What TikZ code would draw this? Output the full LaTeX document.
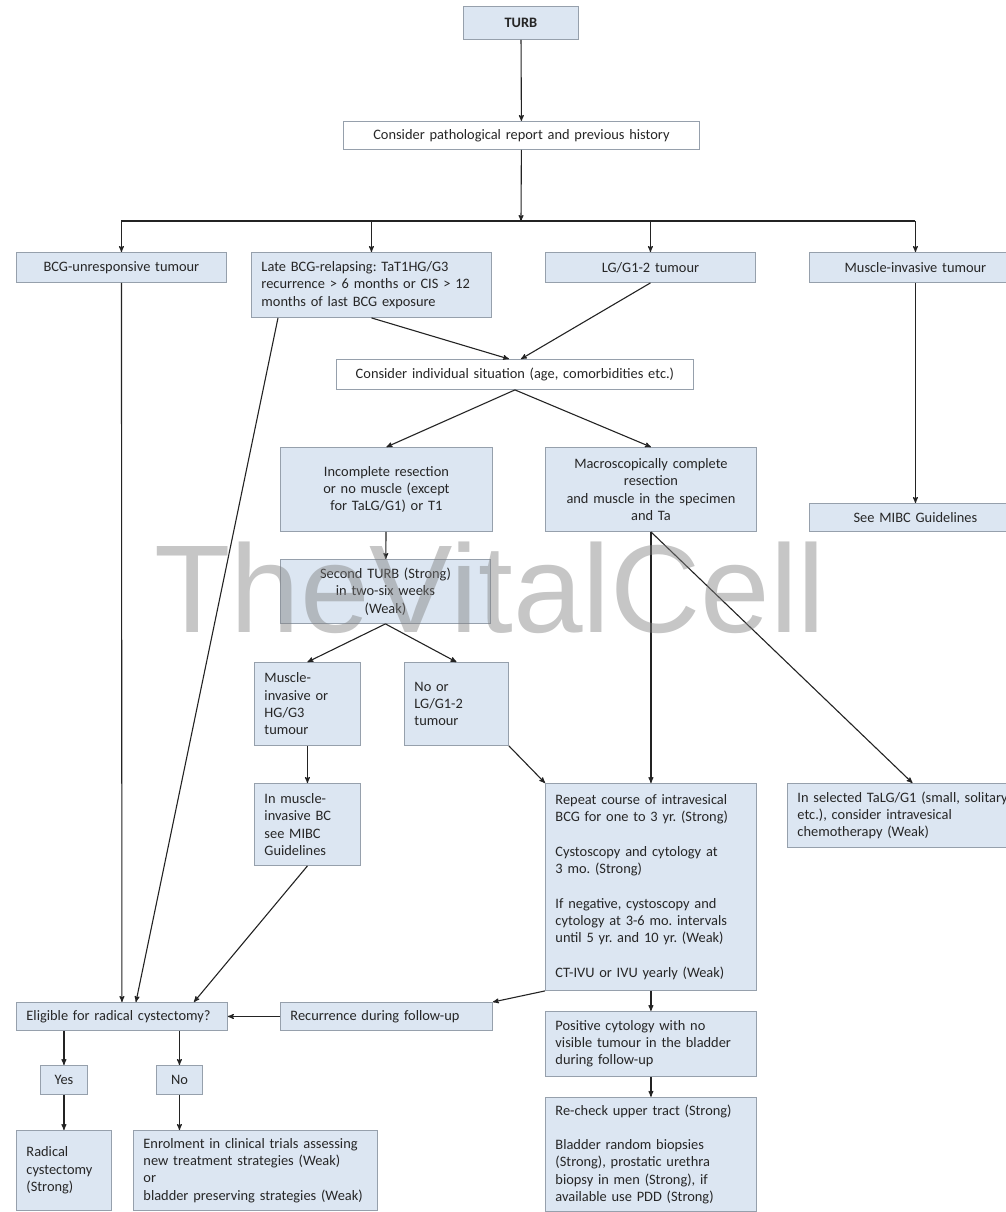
\documentclass[tikz,border=0pt]{standalone}
\usepackage{fontspec}
\setmainfont{Carlito}
\newfontfamily\markfont{Liberation Sans}
\usepackage{xcolor}
\usepackage{tikz}
\usetikzlibrary{arrows}
\usetikzlibrary{calc}
\usetikzlibrary{positioning}
\definecolor{boxfill}{RGB}{220,230,242}
\definecolor{boxline}{RGB}{150,160,172}
\definecolor{linkcol}{RGB}{35,35,35}
\newcommand{\boxfont}{\fontsize{14.4}{17.3}\selectfont}
\frenchspacing

\begin{document}
\begin{tikzpicture}[x=1pt,y=-1pt,->,>=stealth',line width=1.1pt,draw=linkcol]
  \tikzstyle{box}=[draw=boxline, line width=0.9pt, fill=boxfill, anchor=north west, inner xsep=10pt, inner ysep=3pt, align=left, font=\boxfont, text=black!85]
  \tikzstyle{cbox}=[box, align=center]
  \tikzstyle{wbox}=[cbox, fill=white]
  \useasboundingbox (0,0) rectangle (1005,1212);

  % top of the chart
  \node[cbox, text width=95pt, minimum height=33pt, font=\boxfont\bfseries] (turb) at (463,6) {TURB};
  \node[wbox, text width=336pt, minimum height=28pt] (path) at (343,121) {Consider pathological report and previous history};
  \coordinate (split) at (521,221);

  % first row
  \node[cbox, text width=190pt, minimum height=30pt] (bcgu) at (16,252) {BCG-unresponsive tumour};
  \node[box, text width=220pt, minimum height=65pt] (late) at (251,252) {Late BCG-relapsing: TaT1HG/G3\\recurrence > 6 months or CIS > 12\\months of last BCG exposure};
  \node[cbox, text width=190pt, minimum height=30pt] (lg) at (545,252) {LG/G1-2 tumour};
  \node[cbox, text width=192pt, minimum height=30pt] (mit) at (809,252) {Muscle-invasive tumour};

  \node[wbox, text width=337pt, minimum height=30pt] (indiv) at (336,359) {Consider individual situation (age, comorbidities etc.)};
  \node[cbox, text width=192pt, minimum height=84pt] (incomp) at (280,447) {Incomplete resection\\or no muscle (except\\for TaLG/G1) or T1};
  \node[cbox, text width=191pt, minimum height=84pt] (macro) at (545,447) {Macroscopically complete\\resection\\and muscle in the specimen\\and Ta};
  \node[cbox, text width=192pt, minimum height=28pt] (mibc) at (809,503) {See MIBC Guidelines};

  \node[cbox, text width=190pt, minimum height=64pt] (second) at (280,559) {Second TURB (Strong)\\in two-six weeks\\(Weak)};
  \node[box, text width=86pt, minimum height=83pt] (mus) at (254,662) {Muscle-\\invasive or\\HG/G3\\tumour};
  \node[box, text width=84pt, minimum height=83pt] (noor) at (404,662) {No or\\LG/G1-2\\tumour};
  \node[box, text width=86pt, minimum height=82pt] (inmus) at (254,783) {In muscle-\\invasive BC\\see MIBC\\Guidelines};

  % right column
  \node[box, text width=191pt, minimum height=207pt] (rep) at (545,783) {Repeat course of intravesical\\BCG for one to 3 yr. (Strong)\\[17.3pt]Cystoscopy and cytology at\\3 mo. (Strong)\\[17.3pt]If negative, cystoscopy and\\cytology at 3-6 mo. intervals\\until 5 yr. and 10 yr. (Weak)\\[17.3pt]CT-IVU or IVU yearly (Weak)};
  \node[box, text width=230pt, minimum height=64pt] (insel) at (787,783) {In selected TaLG/G1 (small, solitary\\etc.), consider intravesical\\chemotherapy (Weak)};
  \node[box, text width=191pt, minimum height=65pt] (pos) [below=20pt of rep] {Positive cytology with no\\visible tumour in the bladder\\during follow-up};
  \node[box, text width=191pt, minimum height=114pt] (rech) [below=20pt of pos] {Re-check upper tract (Strong)\\[17.3pt]Bladder random biopsies\\(Strong), prostatic urethra\\biopsy in men (Strong), if\\available use PDD (Strong)};

  % bottom left
  \node[box, text width=192pt, minimum height=28pt] (rec) at (280,1002) {Recurrence during follow-up};
  \node[box, text width=191pt, minimum height=28pt] (elig) at (16,1002) {Eligible for radical cystectomy?};
  \node[cbox, inner xsep=4pt, text width=39pt, minimum height=29pt] (yes) at (40,1065) {Yes};
  \node[cbox, inner xsep=4pt, text width=38pt, minimum height=29pt] (no) at (156,1065) {No};
  \node[box, text width=75pt, minimum height=80pt] (rad) at (16,1130) {Radical\\cystectomy\\(Strong)};
  \node[box, text width=224pt, minimum height=80pt] (enr) at (133,1130) {Enrolment in clinical trials assessing\\new treatment strategies (Weak)\\or\\bladder preserving strategies (Weak)};

  \draw[-] (bcgu.north |- split) -- (mit.north |- split);
  \path (turb) edge (path)
        (path) edge (split)
        (bcgu.north |- split) edge (bcgu)
        (late.north |- split) edge (late)
        (lg.north |- split) edge (lg)
        (mit.north |- split) edge (mit)
        (late.south) edge ($(indiv.north)+(-6,0)$)
        (lg.south) edge ($(indiv.north)+(6,0)$)
        (indiv.south) edge (incomp.north)
        (indiv.south) edge (macro.north)
        (mit) edge (mibc)
        (incomp) edge (second)
        (second.south) edge (mus.north)
        (second.south) edge (noor.north)
        (mus) edge (inmus)
        (noor.south east) edge (rep.north west)
        (macro.south) edge (rep.north)
        (macro.south) edge (insel.north)
        (rep) edge (pos)
        (pos) edge (rech)
        (rep.south west) edge (rec.north east)
        (rec) edge (elig)
        (bcgu.south) edge (elig.north)
        ($(late.south west)+(27,0)$) edge ($(elig.north)+(14,0)$)
        (inmus.south) edge ($(elig.north)+(72,0)$)
        (yes.north |- elig.south) edge (yes.north)
        (no.north |- elig.south) edge (no.north)
        (yes.south) edge (yes.south |- rad.north)
        (no.south) edge (no.south |- enr.north);

  % watermark over the chart
  \node[font=\markfont\fontsize{125}{125}\selectfont, text=gray, opacity=0.45] (mark) at (490,588) {TheVitalCell};
\end{tikzpicture}
\end{document}
